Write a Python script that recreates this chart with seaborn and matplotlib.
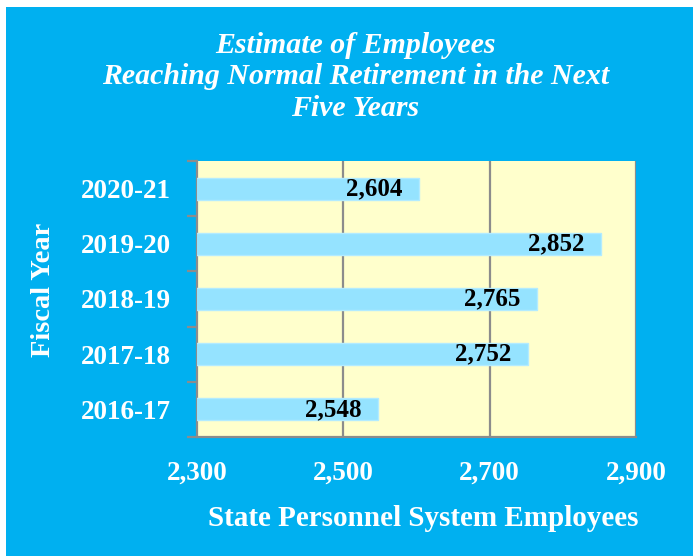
import matplotlib
matplotlib.use("Agg")
import matplotlib.pyplot as plt
import matplotlib.patches as mpatches
from matplotlib.ticker import FixedLocator, FuncFormatter
import seaborn as sns
import pandas as pd

# Fiscal years, top to bottom, and projected retirements
fiscal_years = ["2020-21", "2019-20", "2018-19", "2017-18", "2016-17"]
employees = [2604, 2852, 2765, 2752, 2548]
x_ticks = [2300, 2500, 2700, 2900]

title_text = "Estimate of Employees\nReaching Normal Retirement in the Next\nFive Years"
x_label = "State Personnel System Employees"
y_label = "Fiscal Year"

OUTER_BLUE = "#00B0F0"
BAR_BLUE = "#95E3FF"
BAR_EDGE = "#B3EBFF"
PLOT_BG = "#FFFFCC"
LINE_GRAY = "#8C8C8C"

sns.set_style("white")
plt.rcParams["font.family"] = ["Liberation Serif", "DejaVu Serif"]

df = pd.DataFrame({"year": fiscal_years, "count": employees})

fig = plt.figure(figsize=(6.93, 5.56), dpi=100)
fig.patch.set_facecolor("white")
fig.patches.append(mpatches.Rectangle((6 / 693, 0), 1 - 6 / 693, 1 - 7 / 556,
                                      transform=fig.transFigure, facecolor=OUTER_BLUE,
                                      edgecolor="none", zorder=-10))

ax = fig.add_axes([197 / 693, 1 - 437 / 556, (636 - 197) / 693, (437 - 161) / 556])
ax.set_facecolor(PLOT_BG)

sns.barplot(data=df, x="count", y="year", order=fiscal_years, orient="h",
            color=BAR_BLUE, width=0.4, saturation=1, ax=ax, zorder=3,
            edgecolor=BAR_EDGE, linewidth=1)

ax.set_xlim(2300, 2900)
ax.set_ylim(len(fiscal_years) - 0.5, -0.5)

# vertical grid lines
for xv in x_ticks[1:]:
    ax.axvline(xv, color=LINE_GRAY, lw=1.6, zorder=2)

# value labels inside the bar ends
for i, v in enumerate(employees):
    ax.annotate(f"{v:,}", xy=(v, i), xytext=(-12, 0), textcoords="offset points",
                ha="right", va="center", fontsize=18, fontweight="bold",
                color="black", zorder=5)

ax.xaxis.set_major_locator(FixedLocator(x_ticks))
ax.xaxis.set_major_formatter(FuncFormatter(lambda v, p: f"{int(v):,}"))
ax.yaxis.set_major_locator(FixedLocator(range(len(fiscal_years))))
ax.set_yticklabels(fiscal_years)
ax.yaxis.set_minor_locator(FixedLocator([i - 0.5 for i in range(len(fiscal_years) + 1)]))

ax.tick_params(axis="x", which="major", direction="out", length=7, width=1.6,
               color=LINE_GRAY, labelsize=19.5, labelcolor="white", pad=10)
ax.tick_params(axis="y", which="major", length=0, labelsize=19.5,
               labelcolor="white", pad=18.5)
ax.tick_params(axis="y", which="minor", direction="out", length=7, width=1.6,
               color=LINE_GRAY, left=True)
for lbl in ax.get_xticklabels() + ax.get_yticklabels():
    lbl.set_fontweight("bold")

for side in ["top", "right"]:
    ax.spines[side].set_visible(False)
for side in ["left", "bottom"]:
    ax.spines[side].set_visible(True)
    ax.spines[side].set_color(LINE_GRAY)
    ax.spines[side].set_linewidth(1.6)

ax.set_xlabel("")
ax.set_ylabel("")
fig.text(423 / 693, 1 - 518 / 556, x_label, ha="center", va="center",
         fontsize=21, fontweight="bold", color="white")
fig.text(44 / 693, 1 - 290 / 556, y_label, ha="center", va="center", rotation=90,
         fontsize=20.5, fontweight="bold", color="white")
fig.text(355.5 / 693, 1 - 77 / 556, title_text, ha="center", va="center",
         fontsize=21.5, fontweight="bold", fontstyle="italic", color="white",
         linespacing=1.22)

fig.savefig("out.png", dpi=100, facecolor=fig.get_facecolor())
